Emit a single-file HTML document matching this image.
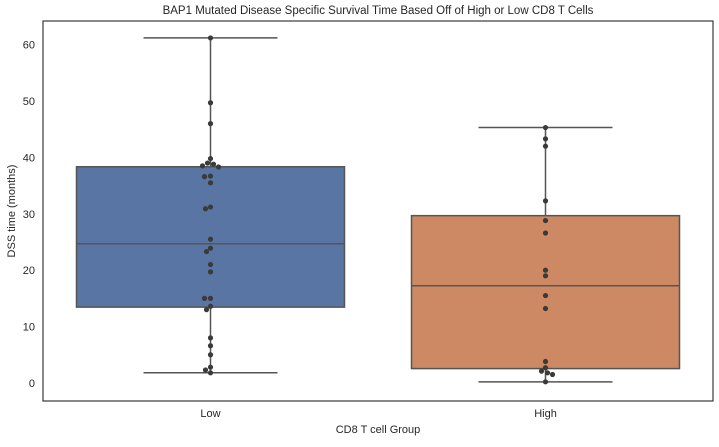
<!DOCTYPE html>
<html><head><meta charset="utf-8"><style>
body{margin:0;background:#fff;}
text{font-family:"Liberation Sans","DejaVu Sans",sans-serif;fill:#262626;}
</style></head><body>
<svg id="chart" width="719" height="442" xmlns="http://www.w3.org/2000/svg">
<text x="378" y="14" font-size="11.5" text-anchor="middle">BAP1 Mutated Disease Specific Survival Time Based Off of High or Low CD8 T Cells</text>
<g id="plot"></g>
<rect x="43" y="21" width="670" height="380" fill="none" stroke="#262626" stroke-width="1.1"/>
<text x="378" y="433" font-size="11" text-anchor="middle">CD8 T cell Group</text>
<text transform="translate(15,211) rotate(-90)" font-size="11" text-anchor="middle">DSS time (months)</text>
</svg>
<script>
const categories=["Low","High"];
const lowValues=[61.2,49.7,46,39.8,39,38.8,38.5,38.3,36.7,36.6,35.5,31.2,30.9,25.5,23.9,23.3,21,19.7,15,15,13.6,13.0,8,6.6,5,2.8,2.3,1.8];
const highValues=[45.3,43.3,42,32.3,28.8,26.6,20,19,15.5,13.2,3.8,2.7,2.1,1.8,1.5,0.2];
const yTicks=[0,10,20,30,40,50,60];
const colors=["#5875a4","#cc8963"];
const series=[lowValues,highValues];
const NS="http://www.w3.org/2000/svg";
const L=43,R=713,T=21,B=401,yMin=-3.2,yMax=64.2;
const y=v=>B-(v-yMin)/(yMax-yMin)*(B-T);
const band=(R-L)/categories.length;
const xc=i=>L+band*(i+0.5);
const g=document.getElementById('plot');
function mk(tag,attrs){const e=document.createElementNS(NS,tag);for(const k in attrs)e.setAttribute(k,attrs[k]);g.appendChild(e);return e;}
function q(s,p){const pos=(s.length-1)*p,lo=Math.floor(pos),hi=Math.ceil(pos);return s[lo]+(s[hi]-s[lo])*(pos-lo);}
yTicks.forEach(t=>{
 const tl=mk('text',{x:L-8,y:y(t)+4,'font-size':11,'text-anchor':'end'});tl.textContent=t;
 
 
});
categories.forEach((c,i)=>{
 const s=[...series[i]].sort((a,b)=>a-b);
 const q1=q(s,.25),med=q(s,.5),q3=q(s,.75),iqr=q3-q1;
 const lo=Math.min(...s.filter(v=>v>=q1-1.5*iqr)),hi=Math.max(...s.filter(v=>v<=q3+1.5*iqr));
 const cx=xc(i),w=band*0.8,cap=w/2;
 const st={stroke:'#555','stroke-width':1.5};
 let e=mk('line',Object.assign({x1:cx,x2:cx,y1:y(hi),y2:y(q3)},st));
 e=mk('line',Object.assign({x1:cx,x2:cx,y1:y(q1),y2:y(lo)},st));
 e=mk('line',Object.assign({x1:cx-cap/2,x2:cx+cap/2,y1:y(hi),y2:y(hi)},st));
 e=mk('line',Object.assign({x1:cx-cap/2,x2:cx+cap/2,y1:y(lo),y2:y(lo)},st));
 e=mk('rect',{x:cx-w/2,y:y(q3),width:w,height:y(q1)-y(q3),fill:colors[i],stroke:'#555','stroke-width':1.5});
 
 
 e=mk('line',Object.assign({x1:cx-w/2,x2:cx+w/2,y1:y(med),y2:y(med)},st));
 const tx=mk('text',{x:cx,y:B+16,'font-size':11,'text-anchor':'middle'});tx.textContent=c;
 
 
 const r=2.6,placed=[];
 series[i].forEach(v=>{
  const py=y(v);let off=0;
  for(let k=0;k<40;k++){
   const cand=k===0?0:(k%2?-1:1)*Math.ceil(k/2)*1.0;
   if(placed.every(p=>Math.hypot(p[0]-cand,p[1]-py)>=2*r)){off=cand;break;}
  }
  placed.push([off,py]);
  const d=mk('circle',{cx:cx+off,cy:py,r:r,fill:'#3a3a3a'});
  
  
 });
});
</script>
</body></html>
